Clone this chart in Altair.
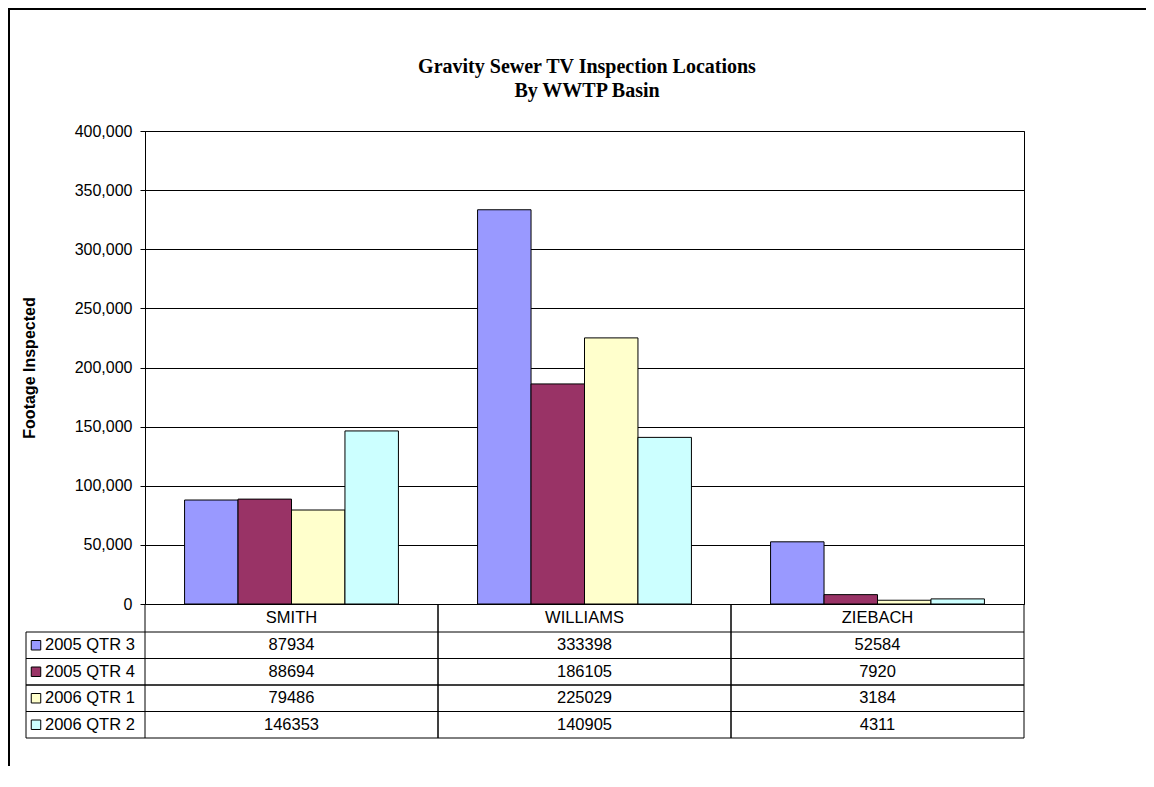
import altair as alt
import pandas as pd

categories = ["SMITH", "WILLIAMS", "ZIEBACH"]
series = ["2005 QTR 3", "2005 QTR 4", "2006 QTR 1", "2006 QTR 2"]
smith = [87934, 88694, 79486, 146353]
williams = [333398, 186105, 225029, 140905]
ziebach = [52584, 7920, 3184, 4311]
colors = ["#9999FF", "#993366", "#FFFFCC", "#CCFFFF"]
y_ticks = [0, 50000, 100000, 150000, 200000, 250000, 300000, 350000, 400000]
title_lines = ["Gravity Sewer TV Inspection Locations", "By WWTP Basin"]

rows = []
for cat, vals in zip(categories, [smith, williams, ziebach]):
    for s, v in zip(series, vals):
        rows.append({"category": cat, "series": s, "value": v})
df = pd.DataFrame(rows)
cat_df = pd.DataFrame({"category": categories})
ser_df = pd.DataFrame({"series": series})
one_df = pd.DataFrame({"k": [0]})

W, H = 879, 473
SANS = "Liberation Sans"
FS = 16.5

x_scale = alt.Scale(domain=categories, paddingInner=0, paddingOuter=0)
x_enc = alt.X("category:N", sort=categories, scale=x_scale, axis=None)
color_enc = alt.Color("series:N", sort=series,
                      scale=alt.Scale(domain=series, range=colors), legend=None)
row_scale = alt.Scale(type="band", domain=series, range=[501, 607],
                      paddingInner=0, paddingOuter=0)
y_row = alt.Y("series:N", sort=series, scale=row_scale, axis=None)

bars = alt.Chart(df).mark_bar(stroke="black", strokeWidth=1).encode(
    x=x_enc,
    xOffset=alt.XOffset("series:N", sort=series,
                        scale=alt.Scale(domain=series, paddingInner=0, paddingOuter=0.74)),
    y=alt.Y("value:Q", scale=alt.Scale(domain=[0, 400000], nice=False),
            axis=alt.Axis(values=y_ticks, format=",d", title="Footage Inspected",
                          titleFont=SANS, titleFontSize=16, titleFontWeight="bold",
                          titleColor="black", titleX=-115.5, titleY=H / 2,
                          titleAngle=-90, titleAlign="center", titleBaseline="middle",
                          labelFont=SANS, labelFontSize=16, labelColor="black",
                          labelPadding=8, tickSize=5, tickColor="black",
                          domainColor="black", gridColor="black", gridWidth=1,
                          grid=True)),
    color=color_enc,
)

cells = alt.Chart(df).mark_text(font=SANS, fontSize=FS, color="black",
                                baseline="middle").encode(
    x=x_enc, y=y_row, text=alt.Text("value:Q", format="d"))

header = alt.Chart(cat_df).mark_text(font=SANS, fontSize=FS, color="black",
                                     baseline="middle").encode(
    x=x_enc, y=alt.value(487), text="category:N")

keys = alt.Chart(ser_df).mark_square(size=90, stroke="black", strokeWidth=1,
                                     opacity=1).encode(
    x=alt.value(-109), y=y_row, color=color_enc)

key_labels = alt.Chart(ser_df).mark_text(font=SANS, fontSize=FS, color="black",
                                         align="left", baseline="middle").encode(
    x=alt.value(-100), y=y_row, text="series:N")

hlines_top = alt.Chart(ser_df).mark_rule(color="black", strokeWidth=1).encode(
    y=alt.Y("series:N", sort=series, scale=row_scale, axis=None, bandPosition=0),
    x=alt.value(-119), x2=alt.value(W))
hlines_bot = alt.Chart(ser_df).mark_rule(color="black", strokeWidth=1).encode(
    y=alt.Y("series:N", sort=series, scale=row_scale, axis=None, bandPosition=1),
    x=alt.value(-119), x2=alt.value(W))

vlines_l = alt.Chart(cat_df).mark_rule(color="black", strokeWidth=1).encode(
    x=alt.X("category:N", sort=categories, scale=x_scale, axis=None, bandPosition=0),
    y=alt.value(H), y2=alt.value(607))
vlines_r = alt.Chart(cat_df).mark_rule(color="black", strokeWidth=1).encode(
    x=alt.X("category:N", sort=categories, scale=x_scale, axis=None, bandPosition=1),
    y=alt.value(H), y2=alt.value(607))
vline_key = alt.Chart(one_df).mark_rule(color="black", strokeWidth=1).encode(
    x=alt.value(-119), y=alt.value(501), y2=alt.value(607))

frame_top = alt.Chart(one_df).mark_rule(color="black", strokeWidth=2).encode(
    x=alt.value(-137), x2=alt.value(1200), y=alt.value(-122))
frame_left = alt.Chart(one_df).mark_rule(color="black", strokeWidth=2).encode(
    x=alt.value(-136), y=alt.value(-123), y2=alt.value(1000))

title1 = alt.Chart(pd.DataFrame({"t": [title_lines[0]]})).mark_text(
    font="Liberation Serif", fontSize=20, fontWeight="bold", color="black",
    baseline="alphabetic", align="center").encode(
    x=alt.value(442), y=alt.value(-58), text="t:N")
title2 = alt.Chart(pd.DataFrame({"t": [title_lines[1]]})).mark_text(
    font="Liberation Serif", fontSize=20, fontWeight="bold", color="black",
    baseline="alphabetic", align="center").encode(
    x=alt.value(442), y=alt.value(-34), text="t:N")

chart = alt.layer(
    frame_top, frame_left, bars, cells, header, keys, key_labels,
    hlines_top, hlines_bot, vlines_l, vlines_r, vline_key, title1, title2,
).resolve_scale(y="independent").properties(
    width=W, height=H,
    padding={"left": 137, "top": 123, "right": 122, "bottom": 162},
    autosize=alt.AutoSizeParams(type="none"),
    background="white",
).configure_view(stroke="black", strokeWidth=1)

chart.save("out.html", embed_options={"renderer": "svg", "actions": False})
